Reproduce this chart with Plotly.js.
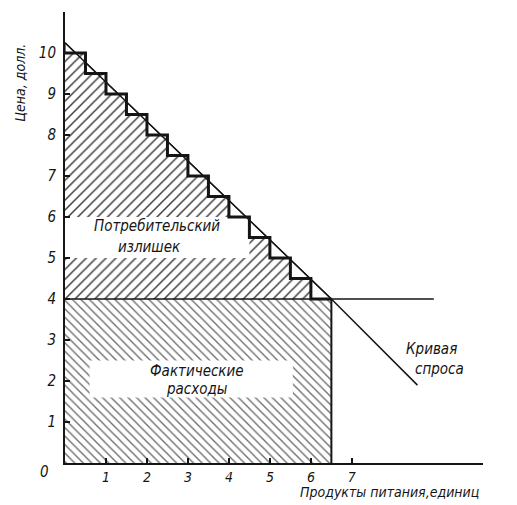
<!DOCTYPE html>
<html>
<head>
<meta charset="utf-8">
<script src="https://cdn.plot.ly/plotly-3.0.1.min.js"></script>
<style>html,body{margin:0;padding:0;background:#fff;}#chart{width:517px;height:505px;}</style>
</head>
<body>
<div id="chart"></div>
<script>
// ---- data ----
const priceTicks = [1, 2, 3, 4, 5, 6, 7, 8, 9, 10];
const qtyTicks = [1, 2, 3, 4, 5, 6, 7];
// staircase: tread boundaries (units) and tread prices (dollars)
const stepQty = [0, 0.5, 1.0, 1.5, 2.0, 2.5, 3.0, 3.5, 4.0, 4.5, 5.0, 5.5, 6.0, 6.5];
const stepPrice = [10, 9.5, 9.0, 8.5, 8.0, 7.5, 7.0, 6.5, 6.0, 5.5, 5.0, 4.5, 4.0];
// demand curve
const demandQty = [0, 6.5, 8.6];
const demandPrice = [10.25, 4.0, 1.9];
// market price and quantity bought
const marketPrice = 4;
const boughtQty = 6.5;
const priceLineEnd = 9.0;
// label boxes [q0, q1, p0, p1]
const surplusBox = [0, 4.5, 5.0, 6.0];
const spendBox = [0.6, 5.56, 1.6, 2.5];
const xMax = 10.2, yMax = 11;

const FONT = 'DejaVu Sans Condensed, Liberation Sans Narrow, DejaVu Sans, sans-serif';
const INK = '#151515';

// helpers on the demand polyline
function demandAt(q) {
  for (let i = 0; i < demandQty.length - 1; i++) {
    if (q >= demandQty[i] && q <= demandQty[i + 1]) {
      const t = (q - demandQty[i]) / (demandQty[i + 1] - demandQty[i]);
      return demandPrice[i] + t * (demandPrice[i + 1] - demandPrice[i]);
    }
  }
  return null;
}
function qtyAt(p) {
  for (let i = 0; i < demandPrice.length - 1; i++) {
    const a = demandPrice[i], b = demandPrice[i + 1];
    if ((p <= a && p >= b)) {
      const t = (a - p) / (a - b);
      return demandQty[i] + t * (demandQty[i + 1] - demandQty[i]);
    }
  }
  return null;
}

// staircase path
const stairX = [], stairY = [];
for (let k = 0; k < stepPrice.length; k++) {
  stairX.push(stepQty[k], stepQty[k + 1]);
  stairY.push(stepPrice[k], stepPrice[k]);
}
// upper (surplus) polygon
const surX = stairX.concat([boughtQty, 0]);
const surY = stairY.concat([marketPrice, marketPrice]);

// small triangles between demand line and staircase at the inner corners
const triX = [], triY = [];
for (let k = 0; k < stepPrice.length; k++) {
  const q = stepQty[k], p = stepPrice[k];
  const lp = demandAt(q);
  if (lp !== null && lp > p) {
    const qx = qtyAt(p);
    triX.push(q, q, qx, q, null);
    triY.push(p, lp, p, p, null);
  }
}

function box(b) {
  return { x: [b[0], b[1], b[1], b[0], b[0]], y: [b[2], b[2], b[3], b[3], b[2]] };
}
const sb = box(surplusBox), eb = box(spendBox);

const traces = [
  { // spending rectangle, back-slash hatch
    x: [0, boughtQty, boughtQty, 0, 0], y: [0, 0, marketPrice, marketPrice, 0],
    mode: 'none', fill: 'toself', fillcolor: 'rgba(0,0,0,0)',
    fillpattern: { shape: '\\', size: 6, solidity: 0.22, fgcolor: '#6a6a6a', bgcolor: 'white' },
    hoverinfo: 'skip', showlegend: false
  },
  { // consumer surplus, slash hatch
    x: surX, y: surY,
    mode: 'none', fill: 'toself', fillcolor: 'rgba(0,0,0,0)',
    fillpattern: { shape: '/', size: 7, solidity: 0.22, fgcolor: '#404040', bgcolor: 'white' },
    hoverinfo: 'skip', showlegend: false
  },
  { x: sb.x, y: sb.y, mode: 'none', fill: 'toself', fillcolor: 'white', hoverinfo: 'skip', showlegend: false },
  { x: eb.x, y: eb.y, mode: 'none', fill: 'toself', fillcolor: 'white', hoverinfo: 'skip', showlegend: false },
  { // triangles
    x: triX, y: triY, mode: 'lines', fill: 'toself', fillcolor: 'white',
    line: { color: INK, width: 1.2 }, hoverinfo: 'skip', showlegend: false
  },
  { // price line
    x: [0, priceLineEnd], y: [marketPrice, marketPrice], mode: 'lines',
    line: { color: INK, width: 1.6 }, hoverinfo: 'skip', showlegend: false
  },
  { // quantity bought
    x: [boughtQty, boughtQty], y: [0, marketPrice], mode: 'lines',
    line: { color: INK, width: 2 }, hoverinfo: 'skip', showlegend: false
  },
  { // demand curve
    x: demandQty, y: demandPrice, mode: 'lines',
    line: { color: INK, width: 1.5 }, hoverinfo: 'skip', showlegend: false
  },
  { // staircase
    x: stairX, y: stairY, mode: 'lines',
    line: { color: INK, width: 3, shape: 'linear' }, hoverinfo: 'skip', showlegend: false
  }
];

const tickFont = { family: FONT, size: 15, color: INK, style: 'italic' };
const xTickFont = { family: FONT, size: 14, color: INK, style: 'italic' };
const labFont = { family: FONT, size: 15, color: INK, style: 'italic' };
const titleFont = { family: FONT, size: 14, color: INK, style: 'italic' };

function ann(text, x, y, extra) {
  return Object.assign({ text: text, x: x, y: y, xref: 'x', yref: 'y', showarrow: false,
    font: labFont, xanchor: 'center', yanchor: 'middle' }, extra || {});
}
function pann(text, x, y, extra) {
  return Object.assign({ text: text, x: x, y: y, xref: 'paper', yref: 'paper', showarrow: false,
    font: labFont, xanchor: 'center', yanchor: 'middle' }, extra || {});
}

const layout = {
  width: 517, height: 505,
  margin: { l: 65, r: 34, t: 12, b: 42 },
  paper_bgcolor: 'white', plot_bgcolor: 'white',
  showlegend: false,
  xaxis: {
    range: [0, xMax], showgrid: false, zeroline: false,
    showline: true, linecolor: INK, linewidth: 2,
    ticks: 'inside', ticklen: 5, tickwidth: 1.3, tickcolor: INK,
    tickvals: qtyTicks, ticktext: qtyTicks.map(String), tickfont: xTickFont
  },
  yaxis: {
    range: [0, yMax], showgrid: false, zeroline: false,
    showline: true, linecolor: INK, linewidth: 2,
    ticks: 'inside', ticklen: 5, tickwidth: 1.3, tickcolor: INK,
    tickvals: priceTicks, ticktext: priceTicks.map(String), tickfont: tickFont,
    ticklabelstandoff: 4
  },
  annotations: [
    pann('0', -0.048, -0.02, { font: tickFont }),
    pann('Цена, долл.', -0.108, 0.843, { textangle: -90, font: titleFont }),
    pann('Продукты питания,единиц', 0.7775, -0.0865, { font: titleFont, yanchor: 'bottom' }),
    ann('Кривая', 8.95, 2.78),
    ann('спроса', 9.15, 2.3),
    ann('Потребительский', 2.24, 5.78),
    ann('излишек', 2.07, 5.27),
    ann('Фактические', 3.22, 2.24),
    ann('расходы', 3.22, 1.8)
  ]
};

Plotly.newPlot('chart', traces, layout, { staticPlot: true, displayModeBar: false });
</script>
</body>
</html>
